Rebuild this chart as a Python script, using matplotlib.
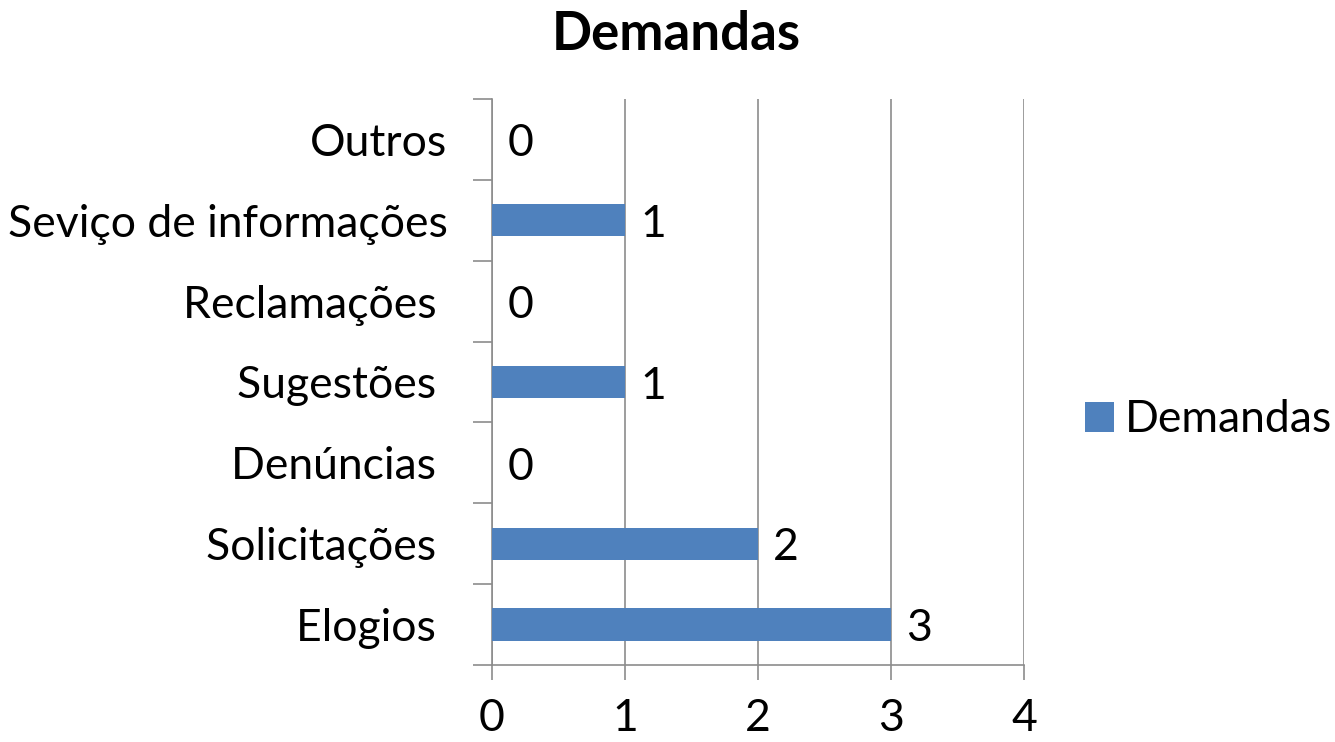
import matplotlib.pyplot as plt
import numpy as np

categories = ['Elogios ', 'Solicitações ', 'Denúncias ', 'Sugestões ', 'Reclamações ',
              'Seviço de informações', 'Outros']
values = [3, 2, 0, 1, 0, 1, 0]
x_ticks = [0, 1, 2, 3, 4]

plt.rcParams['font.family'] = ['Lato', 'DejaVu Sans']
fs = 32

fig = plt.figure(figsize=(13.35, 7.42), dpi=100)
ax = fig.add_axes([492/1335, 1 - 665/742, (1024 - 492)/1335, (665 - 99)/742])

pos = np.arange(len(categories))
bars = ax.barh(pos, values, height=0.4, color='#4F81BD', label='Demandas', zorder=3)

for p, v in zip(pos, values):
    ax.annotate(str(v), (v, p), xytext=(11, -3), textcoords='offset points',
                ha='left', va='center', fontsize=fs)

ax.set_xlim(0, 4)
ax.set_ylim(-0.5, len(categories) - 0.5)
ax.set_xticks(x_ticks)
ax.set_xticklabels([str(t) for t in x_ticks], fontsize=fs)
ax.set_yticks(pos)
ax.set_yticklabels(categories, fontsize=fs)
ax.set_yticks(np.arange(-0.5, len(categories), 1), minor=True)
ax.tick_params(axis='y', which='major', length=0, pad=32)
ax.tick_params(axis='y', which='minor', length=14, color='#8c8c8c', width=1.2)
ax.tick_params(axis='x', length=11, color='#8c8c8c', width=1.2, pad=13)

ax.grid(axis='x', color='#8c8c8c', linewidth=1.2, zorder=0)
for s in ['top', 'right']:
    ax.spines[s].set_visible(False)
for s in ['left', 'bottom']:
    ax.spines[s].set_color('#8c8c8c')
    ax.spines[s].set_linewidth(1.2)

fig.suptitle('Demandas', x=676/1335, y=1 - 35/742, va='center', fontsize=38, fontweight='bold')

fig.legend(handles=[bars], labels=['Demandas'], loc='center left',
           bbox_to_anchor=(1067/1335, 1 - 420/742), frameon=False, fontsize=fs,
           handlelength=0.65, handleheight=0.65, handletextpad=0.25, borderaxespad=0)

fig.savefig('out.png', dpi=100)
